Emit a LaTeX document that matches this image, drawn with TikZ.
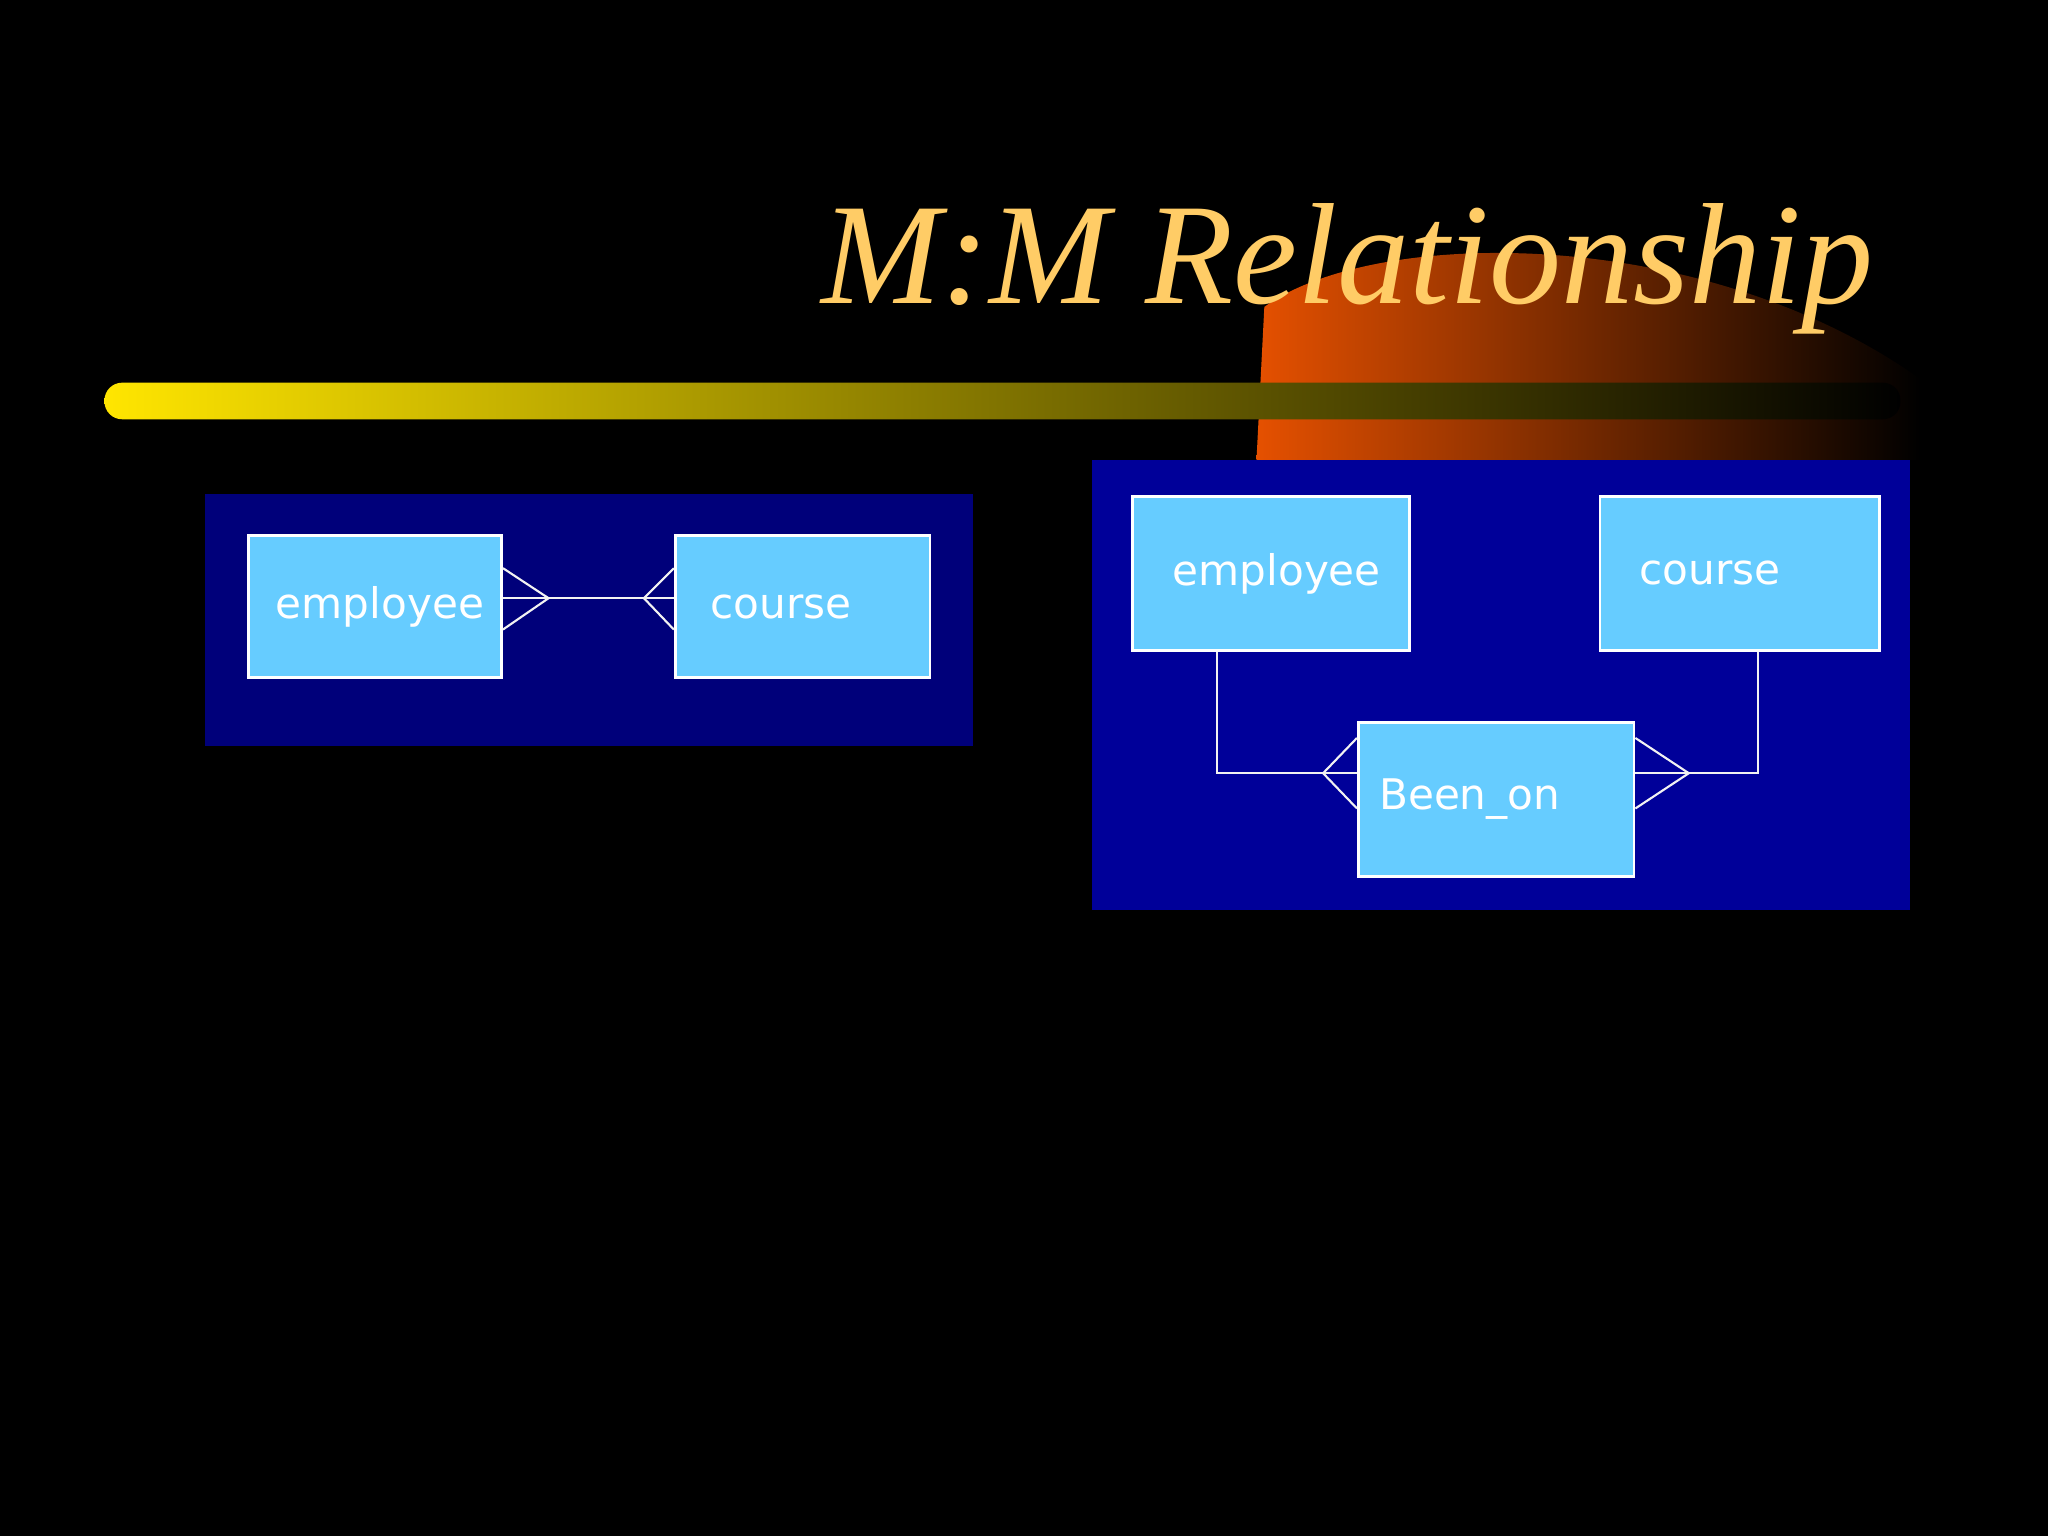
\documentclass[tikz,border=0pt]{standalone}
\usepackage{fontspec}
\setmainfont{Liberation Serif}
\newfontfamily\boxfont{DejaVu Sans}
\begin{document}
\begin{tikzpicture}[x=0.013061cm,y=-0.013061cm,
  ent/.style={draw=white,line width=0.8pt,fill=boxblue,inner sep=0pt,font=\boxfont\fontsize{12}{14}\selectfont,text=white},
  ln/.style={draw=white!90!gray,line width=0.6pt}]
\definecolor{boxblue}{HTML}{66CCFF}
\definecolor{navyA}{HTML}{00007A}
\definecolor{navyB}{HTML}{000099}
\definecolor{gold}{HTML}{FFCC66}
\fill[black] (0,0) rectangle (1568,1176);
\useasboundingbox (0,0) rectangle (1568,1176);
% swoosh
\shade[left color=orange!70!red!90!black,right color=black]
 (962,352) -- (968,235) .. controls (1050,175) and (1300,170) .. (1470,290) -- (1470,352) -- cycle;
% bar
\shade[left color=yellow!80!orange,right color=black,rounded corners=5pt] (80,293) rectangle (1455,321);
\node[text=gold,font=\itshape\fontsize{41}{44}\selectfont,anchor=base east,inner sep=0pt] (title) at (1435,232) {M:M Relationship};
% left panel
\fill[navyA] (157,378) rectangle (745,571);
\node[ent,minimum width=2.534cm,minimum height=1.424cm] (e1) at (287,464.5) {\hspace*{0.1cm}employee};
\node[ent,minimum width=2.547cm,minimum height=1.424cm,text width=1.84cm,align=left] (c1) at (614.5,464.5) {course};
\coordinate (f1) at (420,458);
\coordinate (f2) at (493,458);
\draw[ln] (e1.east |- f1) -- (c1.west |- f2);
\draw[ln] (e1.east |- 0,435) -- (f1) -- (e1.east |- 0,482);
\draw[ln] (c1.west |- 0,435) -- (f2) -- (c1.west |- 0,482);
% right panel
\fill[navyB] (836,352) rectangle (1462,697);
\node[ent,minimum width=2.769cm,minimum height=1.541cm,text width=2.2cm,align=right] (e2) at (973,439) {employee};
\node[ent,minimum width=2.795cm,minimum height=1.541cm,text width=2.0cm,align=left] (c2) at (1332,439) {course};
\node[ent,minimum width=2.756cm,minimum height=1.541cm,text width=2.34cm,align=left] (b) at (1145.5,612) {Been\_on};
\coordinate (g1) at (1013,592);
\coordinate (g2) at (1293,592);
\draw[ln] (e2.south -| 932,0) |- (b.west |- g1);
\draw[ln] (c2.south -| 1346,0) |- (b.east |- g2);
\draw[ln] (b.west |- 0,565) -- (g1) -- (b.west |- 0,619);
\draw[ln] (b.east |- 0,565) -- (g2) -- (b.east |- 0,619);
\end{tikzpicture}
\end{document}
